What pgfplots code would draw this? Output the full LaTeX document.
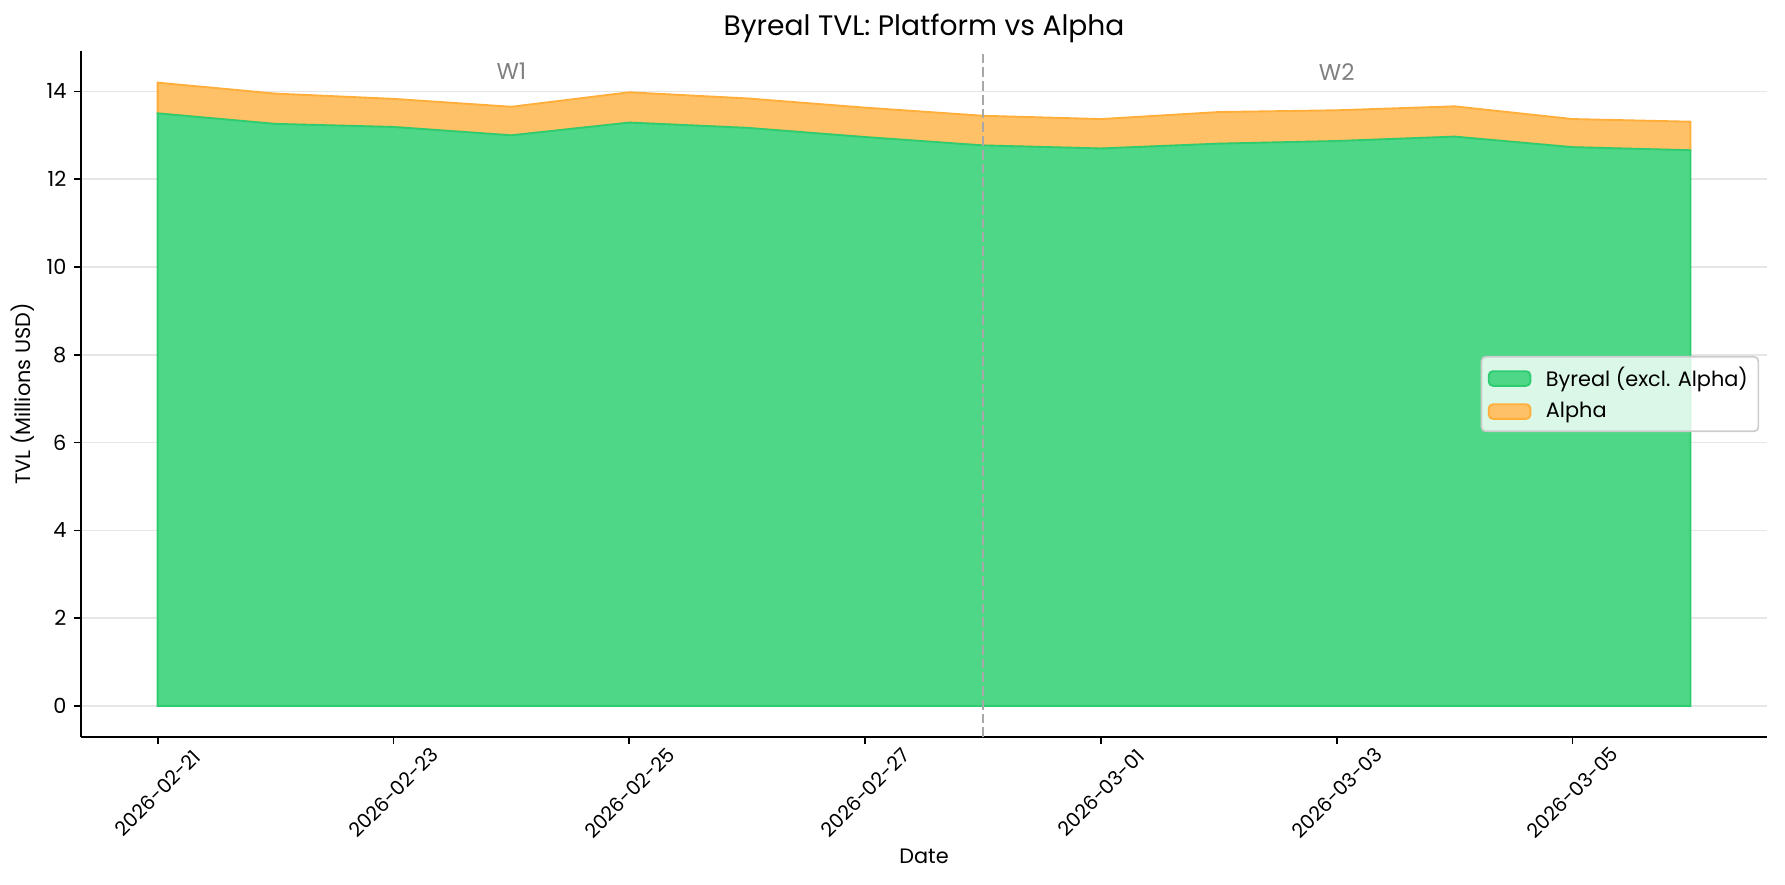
\documentclass[border=0pt]{standalone}
\usepackage{fontspec}
\setmainfont{Poppins}
\usepackage{pgfplots}
\pgfplotsset{compat=1.18}
\usepackage{pgfplotstable}
\definecolor{gfill}{HTML}{4ED787}
\definecolor{gedge}{HTML}{2ECC71}
\definecolor{ofill}{HTML}{FFC168}
\definecolor{oedge}{HTML}{FFAE3A}
\definecolor{gridc}{HTML}{E6E6E6}
\definecolor{vline}{HTML}{A8A8A8}
\definecolor{wtext}{HTML}{808080}
\definecolor{legdraw}{HTML}{CCCCCC}

\pgfplotstableread{
idx byreal alpha
0  13.50 0.70
1  13.26 0.69
2  13.19 0.64
3  13.00 0.65
4  13.29 0.69
5  13.17 0.67
6  12.96 0.67
7  12.77 0.675
8  12.70 0.67
9  12.81 0.72
10 12.87 0.70
11 12.97 0.69
12 12.73 0.64
13 12.66 0.65
}\tvl

\begin{document}
\begin{tikzpicture}
\path[use as bounding box] (-38.9pt,-71.0pt) rectangle (817.9pt,353.8pt);
\begin{axis}[
  at={(0,0)}, anchor=south west,
  scale only axis, width=809.3pt, height=329.3pt,
  xmin=-0.65, xmax=13.65, ymin=-0.71, ymax=14.92,
  axis x line*=bottom, axis y line*=left,
  axis line style={black, line width=0.8pt},
  xtick={0,2,4,6,8,10,12},
  xticklabels={2026-02-21,2026-02-23,2026-02-25,2026-02-27,2026-03-01,2026-03-03,2026-03-05},
  ytick={0,2,4,6,8,10,12,14},
  tick align=outside, major tick length=3.5pt,
  tick style={black, line width=0.8pt},
  ymajorgrids, grid style={gridc, line width=0.8pt},
  /pgf/number format/assume math mode=true,
  tick label style={font=\fontsize{10}{12}\selectfont},
  xticklabel style={font=\fontsize{9.5}{11}\selectfont, anchor=center, yshift=-23.2pt, rotate=45},
  title={Byreal TVL: Platform vs Alpha},
  title style={font=\fontsize{13.5}{16}\selectfont, at={(axis description cs:0.5,1.0145)}, anchor=center, yshift=0pt},
  xlabel={Date},
  xlabel style={font=\fontsize{10}{12}\selectfont, at={(axis description cs:0.5,-0.1735)}, anchor=center},
  ylabel={TVL (Millions USD)},
  ylabel style={font=\fontsize{10}{12}\selectfont, at={(axis description cs:-0.0344,0.5)}, anchor=center},
  stack plots=y,
  legend style={at={(axis description cs:0.9953,0.5)}, anchor=east,
    fill=white, fill opacity=0.8, text opacity=1, draw opacity=1,
    draw=legdraw, rounded corners=2pt, line width=0.8pt,
    font=\fontsize{10}{12}\selectfont, inner xsep=3pt, inner ysep=3pt,
    row sep=2pt, column sep=5pt},
  legend cell align=left,
  legend image code/.code={\draw[#1, fill opacity=1] (0pt,-3.5pt) rectangle (20pt,3.5pt);},
]
\addplot[fill=gfill, draw=gedge, line width=0.9pt] table[x=idx, y=byreal] {\tvl} \closedcycle;
\addlegendentry{Byreal (excl. Alpha)}
\addplot[fill=ofill, draw=oedge, line width=0.9pt] table[x=idx, y=alpha] {\tvl} \closedcycle;
\addlegendentry{Alpha}
\end{axis}
\begin{axis}[
  at={(0,0)}, anchor=south west,
  scale only axis, width=809.3pt, height=329.3pt,
  xmin=-0.65, xmax=13.65, ymin=-0.71, ymax=14.92,
  hide axis,
]
\addplot[vline, line width=1.2pt, dash pattern=on 4.6pt off 2pt] coordinates {(7,-0.71) (7,14.92)};
\node[text=wtext, font=\fontsize{11}{13}\selectfont] at (axis cs:3,14.45) {W1};
\node[text=wtext, font=\fontsize{11}{13}\selectfont] at (axis cs:10,14.45) {W2};
\end{axis}
\end{tikzpicture}
\end{document}
